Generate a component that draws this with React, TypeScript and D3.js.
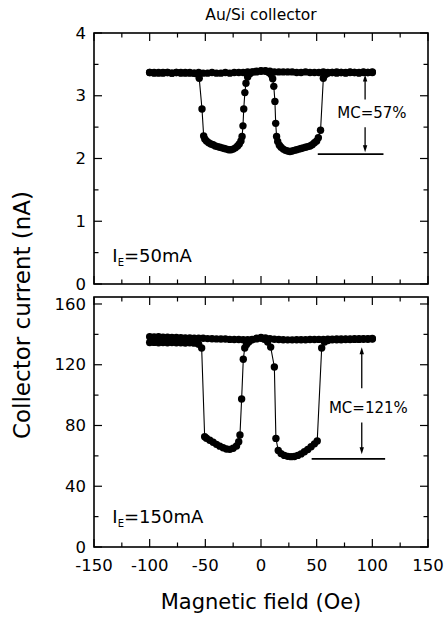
import React from 'react';
import * as d3 from 'd3';

type Pt = [number, number];

// x axis (magnetic field, Oe)
const FIELD_TICKS = [-150, -100, -50, 0, 50, 100, 150];
const FIELD_MINOR = [-125, -75, -25, 25, 75, 125];
// y ticks
const TOP_Y_TICKS = [0, 1, 2, 3, 4];
const TOP_Y_MINOR = [0.5, 1.5, 2.5, 3.5];
const BOT_Y_TICKS = [0, 40, 80, 120, 160];
const BOT_Y_MINOR = [20, 60, 100, 140];

const TITLE = 'Au/Si collector';
const X_LABEL = 'Magnetic field (Oe)';
const Y_LABEL = 'Collector current (nA)';
const TOP_IE = '50mA';
const BOT_IE = '150mA';
const TOP_MC = 'MC=57%';
const BOT_MC = 'MC=121%';

// I_E = 50 mA, field swept up (-100 -> 100)
const TOP_FWD: Pt[] = [
  [-100, 3.37], [-96, 3.36], [-92, 3.37], [-88, 3.36], [-84, 3.37], [-80, 3.36], [-76, 3.37], [-72, 3.36],
  [-68, 3.37], [-64, 3.36], [-60, 3.36], [-56, 3.37], [-52, 3.36], [-48, 3.36], [-44, 3.37], [-40, 3.36],
  [-36, 3.36], [-32, 3.37], [-28, 3.36], [-24, 3.37], [-20, 3.37], [-16, 3.37], [-12, 3.38], [-8, 3.38],
  [-4, 3.38], [0, 3.39], [4, 3.39], [7, 3.37], [9, 3.34], [10.5, 3.27], [11.5, 3.15], [12.5, 2.91],
  [13.2, 2.56], [14, 2.35], [15, 2.27], [16.5, 2.21], [18, 2.18], [20, 2.15], [22, 2.13], [24, 2.12],
  [26, 2.11], [28, 2.12], [30, 2.13], [32, 2.14], [34, 2.15], [36, 2.16], [38, 2.17], [40, 2.18],
  [42, 2.19], [44, 2.2], [46, 2.22], [48, 2.25], [50, 2.28], [51.5, 2.33], [53.5, 2.45], [56, 3.28],
  [58, 3.34], [60, 3.36], [64, 3.37], [68, 3.36], [72, 3.37], [76, 3.36], [80, 3.37], [84, 3.37],
  [88, 3.36], [92, 3.37], [96, 3.37], [100, 3.37],
];
// I_E = 50 mA, field swept down (100 -> -100)
const TOP_REV: Pt[] = [
  [100, 3.38], [96, 3.37], [92, 3.38], [88, 3.37], [84, 3.37], [80, 3.38], [76, 3.37], [72, 3.37],
  [68, 3.38], [64, 3.37], [60, 3.37], [56, 3.38], [52, 3.37], [48, 3.37], [44, 3.37], [40, 3.38],
  [36, 3.37], [32, 3.37], [28, 3.38], [24, 3.38], [20, 3.38], [16, 3.38], [12, 3.38], [8, 3.39],
  [4, 3.4], [0, 3.4], [-4, 3.39], [-7, 3.38], [-10, 3.35], [-12, 3.3], [-13.5, 3.2], [-14.5, 3.05],
  [-15.5, 2.79], [-16.2, 2.52], [-17, 2.35], [-18, 2.28], [-19.5, 2.23], [-21, 2.2], [-23, 2.17], [-25, 2.15],
  [-27, 2.14], [-29, 2.14], [-31, 2.15], [-33, 2.16], [-35, 2.17], [-37, 2.18], [-39, 2.19], [-41, 2.2],
  [-43, 2.22], [-45, 2.23], [-47, 2.25], [-49, 2.28], [-50.5, 2.31], [-51.5, 2.36], [-53, 2.79], [-55.5, 3.28],
  [-58, 3.35], [-60, 3.36], [-64, 3.37], [-68, 3.36], [-72, 3.37], [-76, 3.37], [-80, 3.36], [-84, 3.37],
  [-88, 3.37], [-92, 3.36], [-96, 3.37], [-100, 3.37],
];
// I_E = 150 mA, field swept up
const BOT_FWD: Pt[] = [
  [-100, 138.5], [-96, 138.3], [-92, 138.4], [-88, 138.1], [-84, 138.2], [-80, 137.9], [-76, 138], [-72, 137.8],
  [-68, 137.7], [-64, 137.7], [-60, 137.5], [-56, 137.4], [-52, 137.4], [-48, 137.2], [-44, 137.1], [-40, 137],
  [-36, 136.9], [-32, 136.9], [-28, 136.7], [-24, 136.6], [-20, 136.6], [-16, 136.5], [-12, 136.5], [-8, 136.6],
  [-4, 137], [0, 137.4], [3, 136.8], [6, 135], [8.7, 131.6], [12, 118.5], [13.4, 71.5], [15.5, 63.5],
  [18, 61.5], [21, 60.3], [24, 59.7], [27, 59.5], [30, 59.6], [33, 60.3], [36, 61.3], [39, 62.7],
  [42, 64.2], [45, 66], [48, 67.9], [50.5, 69.8], [54.5, 131], [57, 135], [60, 136], [64, 136.4],
  [68, 136.5], [72, 136.5], [76, 136.6], [80, 136.6], [84, 136.7], [88, 136.7], [92, 136.8], [96, 136.8],
  [100, 136.9],
];
// I_E = 150 mA, field swept down
const BOT_REV: Pt[] = [
  [100, 137.3], [96, 137.2], [92, 137.2], [88, 137.1], [84, 137.1], [80, 137], [76, 137], [72, 136.9],
  [68, 136.9], [64, 136.8], [60, 136.8], [56, 136.7], [52, 136.7], [48, 136.6], [44, 136.6], [40, 136.5],
  [36, 136.5], [32, 136.5], [28, 136.4], [24, 136.4], [20, 136.5], [16, 136.6], [12, 136.8], [8, 137.2],
  [4, 137.7], [0, 138], [-4, 137.4], [-8, 136.4], [-11, 135], [-13, 133.4], [-14.6, 131], [-15.9, 123.6],
  [-17.4, 97.4], [-18.9, 73.7], [-20, 69.3], [-22, 66.5], [-25, 65], [-28, 64.3], [-31, 64.5], [-34, 65.3],
  [-37, 66.4], [-40, 67.6], [-43, 69], [-46, 70.3], [-49, 71.6], [-50.6, 72.6], [-53.3, 131], [-56, 133.5],
  [-60, 134.2], [-64, 134.4], [-68, 134.3], [-72, 134.5], [-76, 134.4], [-80, 134.6], [-84, 134.5], [-88, 134.6],
  [-92, 134.5], [-96, 134.7], [-100, 134.6],
];

const FONT = '"DejaVu Sans", Arial, sans-serif';

type Scale = d3.ScaleLinear<number, number>;

function Arrow({ x, y1, y2 }: { x: number; y1: number; y2: number }) {
  // line from y1 (tail) to y2 (tip)
  const dir = y2 > y1 ? 1 : -1;
  const hl = 7, hw = 2.2;
  return (
    <g>
      <line x1={x} x2={x} y1={y1} y2={y2 - dir * hl * 0.6} stroke="#000" strokeWidth={1.3} />
      <path d={`M${x},${y2} L${x - hw},${y2 - dir * hl} L${x + hw},${y2 - dir * hl} Z`} fill="#000" />
    </g>
  );
}

function Panel({
  x, y, yTicks, yMinor, fwd, rev, showXLabels,
}: {
  x: Scale; y: Scale; yTicks: number[]; yMinor: number[]; fwd: Pt[]; rev: Pt[]; showXLabels: boolean;
}) {
  const [x0, x1] = x.range();
  const [yb, yt] = y.range();
  const line = d3.line<Pt>().x((d) => x(d[0])).y((d) => y(d[1]));
  const major = 8, minor = 4.5;
  return (
    <g>
      {/* data */}
      {[fwd, rev].map((s, i) => (
        <path key={'l' + i} d={line(s) || ''} fill="none" stroke="#000" strokeWidth={1.1} />
      ))}
      {[fwd, rev].map((s, i) => (
        <g key={'d' + i}>
          {s.map((d, j) => (
            <circle key={j} cx={x(d[0])} cy={y(d[1])} r={3.7} fill="#000" />
          ))}
        </g>
      ))}
      {/* ticks */}
      {FIELD_TICKS.map((t) => (
        <g key={'xt' + t}>
          <line x1={x(t)} x2={x(t)} y1={yb} y2={yb - major} stroke="#000" strokeWidth={1.2} />
          <line x1={x(t)} x2={x(t)} y1={yt} y2={yt + major} stroke="#000" strokeWidth={1.2} />
        </g>
      ))}
      {FIELD_MINOR.map((t) => (
        <g key={'xm' + t}>
          <line x1={x(t)} x2={x(t)} y1={yb} y2={yb - minor} stroke="#000" strokeWidth={1.2} />
          <line x1={x(t)} x2={x(t)} y1={yt} y2={yt + minor} stroke="#000" strokeWidth={1.2} />
        </g>
      ))}
      {yTicks.map((t) => (
        <g key={'yt' + t}>
          <line x1={x0} x2={x0 + major} y1={y(t)} y2={y(t)} stroke="#000" strokeWidth={1.2} />
          <line x1={x1} x2={x1 - major} y1={y(t)} y2={y(t)} stroke="#000" strokeWidth={1.2} />
          <text x={x0 - 8} y={y(t)} dy="0.34em" textAnchor="end" fontSize={16.5} fontFamily={FONT}>
            {t}
          </text>
        </g>
      ))}
      {yMinor.map((t) => (
        <g key={'ym' + t}>
          <line x1={x0} x2={x0 + minor} y1={y(t)} y2={y(t)} stroke="#000" strokeWidth={1.2} />
          <line x1={x1} x2={x1 - minor} y1={y(t)} y2={y(t)} stroke="#000" strokeWidth={1.2} />
        </g>
      ))}
      {showXLabels &&
        FIELD_TICKS.map((t) => (
          <text key={'xl' + t} x={x(t)} y={yb + 24} textAnchor="middle" fontSize={16.5} fontFamily={FONT}>
            {t}
          </text>
        ))}
      {/* frame */}
      <rect x={x0} y={yt} width={x1 - x0} height={yb - yt} fill="none" stroke="#000" strokeWidth={1.6} />
    </g>
  );
}

export default function App() {
  const W = 446, H = 617;
  const x = d3.scaleLinear().domain([-150, 150]).range([94, 428]);
  const yTop = d3.scaleLinear().domain([0, 4]).range([284, 33]);
  const yBot = d3.scaleLinear().domain([0, 164.6]).range([547, 297]);

  return (
    <svg width={W} height={H} style={{ position: 'absolute', left: 0, top: 0, background: '#fff' }}>
      <rect width={W} height={H} fill="#fff" />
      <text x={x(0)} y={20} textAnchor="middle" fontSize={15.5} fontFamily={FONT}>{TITLE}</text>

      <Panel x={x} y={yTop} yTicks={TOP_Y_TICKS} yMinor={TOP_Y_MINOR} fwd={TOP_FWD} rev={TOP_REV} showXLabels={false} />
      <Panel x={x} y={yBot} yTicks={BOT_Y_TICKS} yMinor={BOT_Y_MINOR} fwd={BOT_FWD} rev={BOT_REV} showXLabels={true} />

      {/* I_E labels */}
      <text x={x(-133.5)} y={yTop(0.35)} fontSize={18} fontFamily={FONT}>
        I<tspan fontSize={10} dy={4}>E</tspan><tspan dy={-4}>={TOP_IE}</tspan>
      </text>
      <text x={x(-133.5)} y={yBot(16)} fontSize={18} fontFamily={FONT}>
        I<tspan fontSize={10} dy={4}>E</tspan><tspan dy={-4}>={BOT_IE}</tspan>
      </text>

      {/* MC annotation, top */}
      <Arrow x={x(93.5)} y1={yTop(2.94)} y2={yTop(3.34)} />
      <Arrow x={x(93.5)} y1={yTop(2.5)} y2={yTop(2.1)} />
      <line x1={x(51)} x2={x(110)} y1={yTop(2.07)} y2={yTop(2.07)} stroke="#000" strokeWidth={1.6} />
      <text x={x(68.5)} y={yTop(2.73)} dy="0.36em" fontSize={15} fontFamily={FONT}>{TOP_MC}</text>

      {/* MC annotation, bottom */}
      <Arrow x={x(90.5)} y1={yBot(104.5)} y2={yBot(131.5)} />
      <Arrow x={x(90.5)} y1={yBot(82)} y2={yBot(61)} />
      <line x1={x(45.5)} x2={x(111.5)} y1={yBot(58)} y2={yBot(58)} stroke="#000" strokeWidth={1.6} />
      <text x={x(61)} y={yBot(92)} dy="0.36em" fontSize={15} fontFamily={FONT}>{BOT_MC}</text>

      {/* axis titles */}
      <text x={x(0)} y={609} textAnchor="middle" fontSize={21} fontFamily={FONT}>{X_LABEL}</text>
      <text transform="translate(30,315) rotate(-90)" textAnchor="middle" fontSize={23} fontFamily={FONT}>
        {Y_LABEL}
      </text>
    </svg>
  );
}
